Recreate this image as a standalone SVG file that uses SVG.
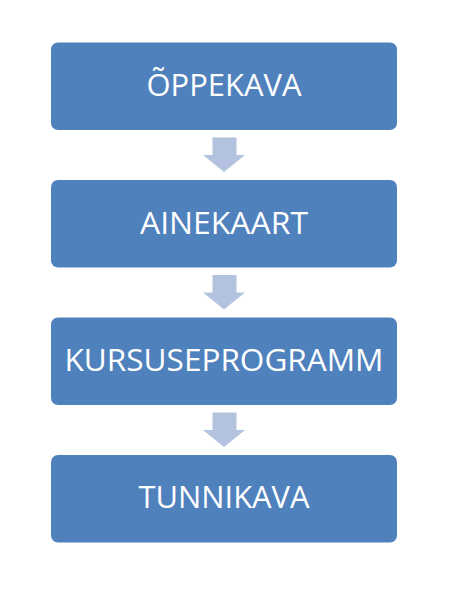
<svg xmlns="http://www.w3.org/2000/svg" width="463" height="592" viewBox="0 0 463 592">
<style>
.box{fill:#4F81BD;}
.lbl{fill:#FFFFFF;font-family:"Open Sans","Noto Sans","DejaVu Sans",sans-serif;font-size:31px;text-anchor:middle;}
.arr{fill:#B3C3DF;}
</style>
<rect width="463" height="592" fill="#FFFFFF"/>
<g id="connectors">
<path class="arr" d="M212.5,137.5 H236.5 V155 H245 L224,172 L203,155 H212.5 Z"/>
<path class="arr" d="M212.5,275 H236.5 V292.5 H245 L224,309.5 L203,292.5 H212.5 Z"/>
<path class="arr" d="M212.5,412.5 H236.5 V430 H245 L224,447 L203,430 H212.5 Z"/>
</g>
<g id="node1">
<rect class="box" x="51" y="42.5" width="346" height="87.5" rx="7"/>
<text class="lbl" x="224" y="96" textLength="155" lengthAdjust="spacingAndGlyphs">ÕPPEKAVA</text>
</g>
<g id="node2">
<rect class="box" x="51" y="180" width="346" height="87.5" rx="7"/>
<text class="lbl" x="224" y="233.5" textLength="168" lengthAdjust="spacingAndGlyphs">AINEKAART</text>
</g>
<g id="node3">
<rect class="box" x="51" y="317.5" width="346" height="87.5" rx="7"/>
<text class="lbl" x="224" y="371" textLength="319" lengthAdjust="spacingAndGlyphs">KURSUSEPROGRAMM</text>
</g>
<g id="node4">
<rect class="box" x="51" y="455" width="346" height="87.5" rx="7"/>
<text class="lbl" x="224" y="508" textLength="171" lengthAdjust="spacingAndGlyphs">TUNNIKAVA</text>
</g>
</svg>
